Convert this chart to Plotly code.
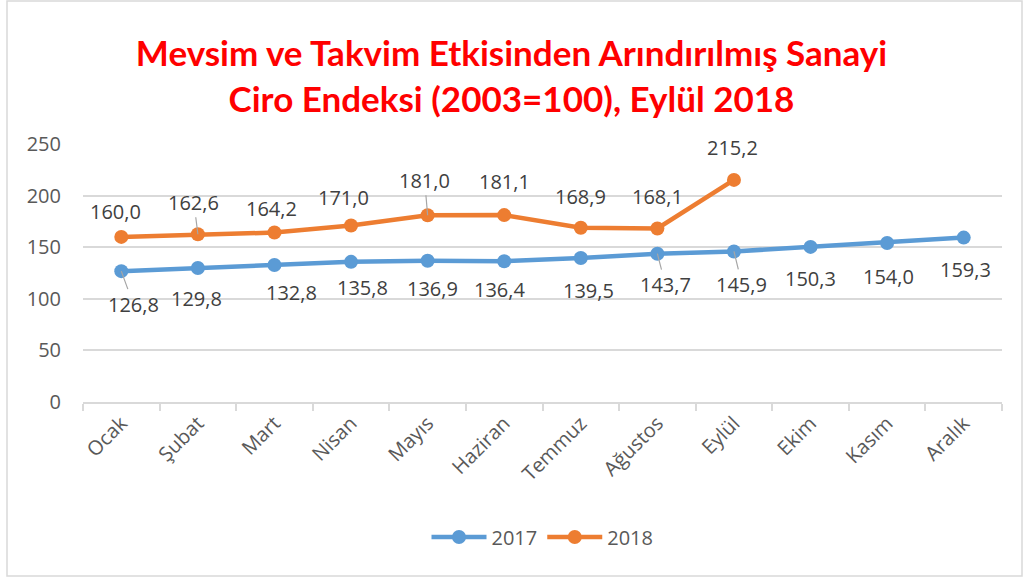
import plotly.graph_objects as go

months = ["Ocak", "Şubat", "Mart", "Nisan", "Mayıs", "Haziran",
          "Temmuz", "Ağustos", "Eylül", "Ekim", "Kasım", "Aralık"]
values_2017 = [126.8, 129.8, 132.8, 135.8, 136.9, 136.4, 139.5, 143.7, 145.9, 150.3, 154.0, 159.3]
values_2018 = [160.0, 162.6, 164.2, 171.0, 181.0, 181.1, 168.9, 168.1, 215.2]
y_ticks = [0, 50, 100, 150, 200, 250]

# label placement (style): pixel offsets of each data label and whether a leader line is drawn
off_2017 = [(12, 33, True), (-1, 30, False), (17, 28, False), (11, 26, False), (5, 28, False),
            (-5, 28, False), (8, 32, False), (8, 31, True), (8, 33, True), (0, 32, False),
            (1, 33, False), (2, 32, False)]
off_2018 = [(-6, -25, False), (-4, -32, True), (-3, -24, False), (-8, -28, False), (-3, -35, True),
            (0, -34, False), (0, -31, False), (0, -32, False), (-1, -32, False)]

BLUE = "#5B9BD5"
ORANGE = "#ED7D31"
FONT = "Open Sans"

fig = go.Figure()
fig.add_trace(go.Scatter(x=months, y=values_2017, name="2017", mode="lines+markers",
                         line=dict(color=BLUE, width=4.5), marker=dict(size=14, color=BLUE)))
fig.add_trace(go.Scatter(x=months[:len(values_2018)], y=values_2018, name="2018", mode="lines+markers",
                         line=dict(color=ORANGE, width=4.5), marker=dict(size=14, color=ORANGE)))

def fmt(v):
    return f"{v:.1f}".replace(".", ",")

annotations = []
for vals, offs in ((values_2017, off_2017), (values_2018, off_2018)):
    for m, v, (dx, dy, leader) in zip(months, vals, offs):
        annotations.append(dict(
            x=m, y=v, xref="x", yref="y", text=fmt(v), showarrow=True,
            ax=dx, ay=dy, arrowhead=0, arrowwidth=1.2, standoff=0,
            arrowcolor="#A6A6A6" if leader else "rgba(0,0,0,0)",
            font=dict(family=FONT, size=20, color="#404040")))

fig.update_layout(
    width=1023, height=578,
    margin=dict(l=83, r=21, t=144, b=176),
    paper_bgcolor="white", plot_bgcolor="white",
    font=dict(family=FONT, color="#595959"),
    title=dict(text="Mevsim ve Takvim Etkisinden Arındırılmış Sanayi<br>Ciro Endeksi (2003=100), Eylül 2018",
               x=0.5, xanchor="center", xref="container", y=1 - 66 / 578, yanchor="middle", yref="container",
               font=dict(family="Lato", size=35, color="#FF0000", weight="bold")),
    showlegend=True,
    legend=dict(orientation="h", x=0.5, xanchor="center", y=-0.523, yanchor="middle",
                font=dict(family=FONT, size=20, color="#595959"), itemwidth=55, tracegroupgap=0),
    annotations=annotations,
    shapes=[dict(type="rect", xref="paper", yref="paper",
                 x0=-76 / 919, x1=(1022 - 83) / 919, y0=-(576 - 402) / 258, y1=(402 - 1) / 258,
                 line=dict(color="#D9D9D9", width=1.5), fillcolor="rgba(0,0,0,0)", layer="below")],
)
fig.update_xaxes(type="category", categoryorder="array", categoryarray=months,
                 showgrid=False, showline=True, linecolor="#D9D9D9", linewidth=1.5,
                 ticks="outside", tickson="boundaries", ticklen=7, tickcolor="#D9D9D9", tickwidth=1.5,
                 tickangle=-45, tickfont=dict(family=FONT, size=20, color="#595959"),
                 range=[-0.5, 11.5])
fig.update_yaxes(range=[0, 250], tickvals=y_ticks, showgrid=True, gridcolor="#D9D9D9", gridwidth=1.5,
                 zeroline=False, showline=False, ticks="", ticklabelstandoff=21,
                 tickfont=dict(family=FONT, size=20, color="#595959"))

fig.write_html("out.html", config={"displayModeBar": False},
               post_script="document.body.style.margin='0';")
